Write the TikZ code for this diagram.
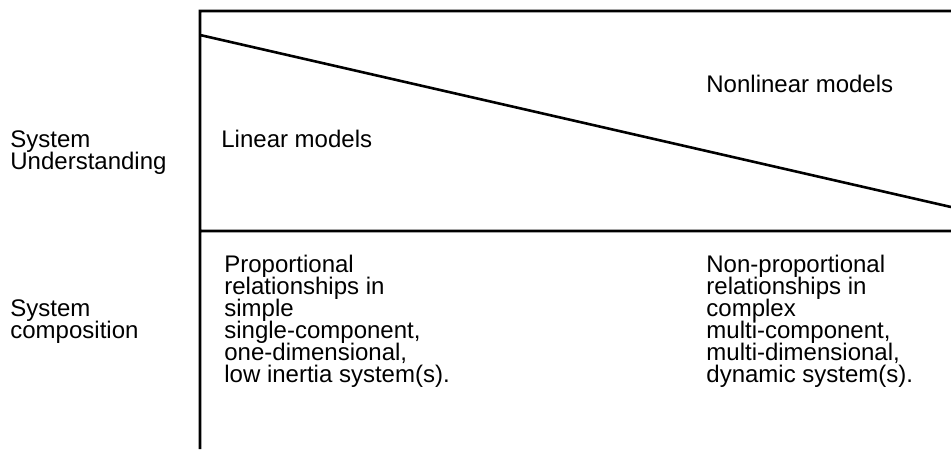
\documentclass[tikz,border=0pt]{standalone}
\usepackage{fontspec}
\setmainfont{Liberation Sans}
\newcommand{\tighttext}{\fontsize{12pt}{11pt}\selectfont\lineskiplimit=-10pt\relax}

\begin{document}
\begin{tikzpicture}[
x=0.5pt, y=-0.5pt,
frameline/.style={
line width=1.3pt,
},
sidetext/.style={
anchor=base west,
align=left,
inner sep=0 pt,
font=\tighttext,
},
celltext/.style={
sidetext,
}
]

\useasboundingbox (0,0) rectangle (951,449);

% frame corners
\path
(200,11) coordinate(tl)
(951,11) coordinate(tr)
(200,449) coordinate(bl)
(200,35) coordinate(dl)
(951,207) coordinate(dr)
(200,231) coordinate(ml)
(951,231) coordinate(mr)
;

% frame
\draw[frameline]
(tr) -- (tl) -- (bl)
(dl) -- (dr)
(ml) -- (mr)
;

% row labels (placed at the baseline of the last line)
\node [sidetext] at (10,169) (sysU) {System\\Understanding};
\node [sidetext] at (10,338) (sysC) {System\\composition};

% upper row
\node [celltext] at (221,147) (lin) {Linear models};
\node [celltext] at (706,92) (nonlin) {Nonlinear models};

% lower row
\node [celltext] at (224,382) (prop)
{Proportional\\relationships in\\simple\\single-component,\\one-dimensional,\\low inertia system(s).};
\node [celltext] at (706,382) (nonprop)
{Non-proportional\\relationships in\\complex\\multi-component,\\multi-dimensional,\\dynamic system(s).};

\end{tikzpicture}
\end{document}
